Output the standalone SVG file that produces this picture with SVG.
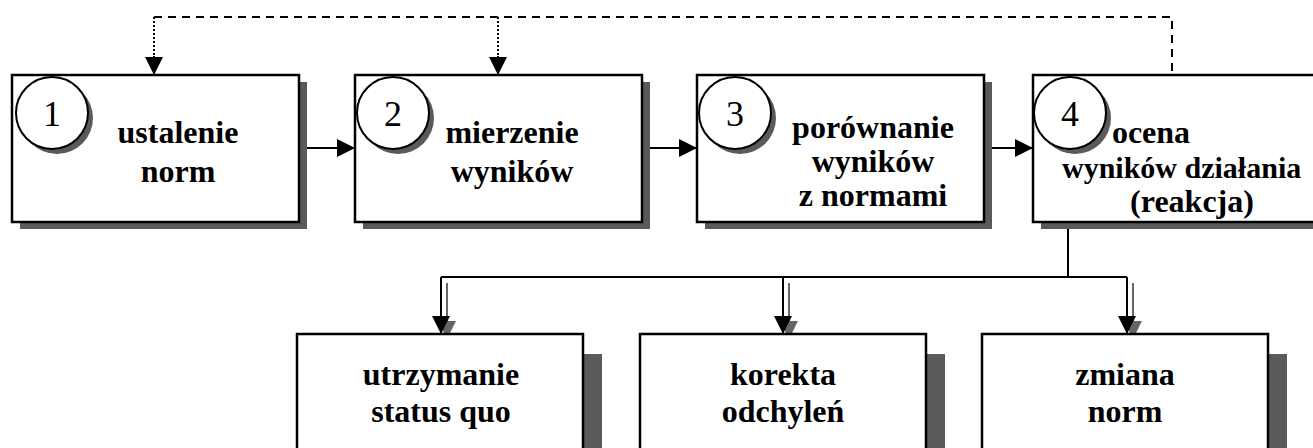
<svg xmlns="http://www.w3.org/2000/svg" width="1313" height="448" viewBox="0 0 1313 448">
<defs>
<style>
.box{fill:#fff;stroke:#000;stroke-width:2.5}
.sh{fill:#5a5a5a}
.circ{fill:#fff;stroke:#000;stroke-width:2}
.num{font-family:"Liberation Serif","Times New Roman",serif;font-size:36px;text-anchor:middle;fill:#000}
.lbl{font-family:"Liberation Serif","Times New Roman",serif;font-size:32px;font-weight:bold;text-anchor:middle;fill:#000}
.ln{fill:none;stroke:#000;stroke-width:2}
.dash{fill:none;stroke:#000;stroke-width:2;stroke-dasharray:8 6}
.dot{fill:none;stroke:#000;stroke-width:2;stroke-dasharray:2 2}
.gl{fill:none;stroke:#666;stroke-width:2}
</style>
<marker id="ah" markerWidth="18" markerHeight="18" viewBox="0 0 18 18" refX="18" refY="9" orient="auto" markerUnits="userSpaceOnUse">
<path d="M0,0 L18,9 L0,18 Z" fill="#000"/>
</marker>
<marker id="ahg" markerWidth="18" markerHeight="18" viewBox="0 0 18 18" refX="18" refY="9" orient="auto" markerUnits="userSpaceOnUse">
<path d="M0,0 L18,9 L0,18 Z" fill="#666"/>
</marker>
</defs>
<rect width="1313" height="448" fill="#fff"/>

<g id="connectors">
<path class="dash" d="M154,17 H1172 V75"/>
<path class="dot" d="M154,17 V57"/>
<path class="dot" d="M498,17 V57"/>
<path class="ln" d="M154,56 V75" marker-end="url(#ah)"/>
<path class="ln" d="M498,56 V75" marker-end="url(#ah)"/>
<path class="ln" d="M300,148 H355" marker-end="url(#ah)"/>
<path class="ln" d="M643,148 H697" marker-end="url(#ah)"/>
<path class="ln" d="M984,148 H1033" marker-end="url(#ah)"/>
<path class="ln" d="M1068,223 V277 M441,277 H1127"/>
<path class="gl" d="M447,283 V339" marker-end="url(#ahg)"/>
<path class="gl" d="M789,283 V339" marker-end="url(#ahg)"/>
<path class="gl" d="M1133,283 V339" marker-end="url(#ahg)"/>
<path class="ln" d="M441,277 V334" marker-end="url(#ah)"/>
<path class="ln" d="M783,277 V334" marker-end="url(#ah)"/>
<path class="ln" d="M1127,277 V334" marker-end="url(#ah)"/>
</g>

<g id="node1">
<rect class="sh" x="20" y="82" width="287" height="147"/>
<rect class="box" x="12" y="75" width="287" height="147"/>
<circle class="sh" cx="57" cy="118" r="36"/>
<circle class="circ" cx="52" cy="113" r="36"/>
<text class="num" x="52" y="126">1</text>
<text class="lbl" x="178" y="143">ustalenie</text>
<text class="lbl" x="178" y="182">norm</text>
</g>

<g id="node2">
<rect class="sh" x="363" y="82" width="287" height="147"/>
<rect class="box" x="355" y="75" width="287" height="147"/>
<circle class="sh" cx="398" cy="118" r="36"/>
<circle class="circ" cx="393" cy="113" r="36"/>
<text class="num" x="393" y="126">2</text>
<text class="lbl" x="512" y="143">mierzenie</text>
<text class="lbl" x="512" y="182">wyników</text>
</g>

<g id="node3">
<rect class="sh" x="705" y="82" width="287" height="147"/>
<rect class="box" x="697" y="75" width="287" height="147"/>
<circle class="sh" cx="740" cy="118" r="36"/>
<circle class="circ" cx="735" cy="113" r="36"/>
<text class="num" x="735" y="126">3</text>
<text class="lbl" x="873" y="138">porównanie</text>
<text class="lbl" x="873" y="172">wyników</text>
<text class="lbl" x="873" y="206">z normami</text>
</g>

<g id="node4">
<rect class="sh" x="1041" y="82" width="300" height="147"/>
<rect class="box" x="1033" y="75" width="300" height="147"/>
<circle class="sh" cx="1075" cy="118" r="36"/>
<circle class="circ" cx="1070" cy="113" r="36"/>
<text class="num" x="1070" y="126">4</text>
<text class="lbl" x="1151" y="143">ocena</text>
<text class="lbl" x="1062" y="178" style="text-anchor:start;font-size:30px">wyników działania</text>
<text class="lbl" x="1192" y="212">(reakcja)</text>
</g>

<g id="node5">
<rect class="sh" x="316" y="354" width="286" height="120"/>
<rect class="box" x="297" y="334" width="286" height="130"/>
<text class="lbl" x="441" y="385">utrzymanie</text>
<text class="lbl" x="441" y="422">status quo</text>
</g>

<g id="node6">
<rect class="sh" x="659" y="354" width="286" height="120"/>
<rect class="box" x="640" y="334" width="286" height="130"/>
<text class="lbl" x="783" y="385">korekta</text>
<text class="lbl" x="783" y="422">odchyleń</text>
</g>

<g id="node7">
<rect class="sh" x="1001" y="354" width="286" height="120"/>
<rect class="box" x="982" y="334" width="286" height="130"/>
<text class="lbl" x="1125" y="385">zmiana</text>
<text class="lbl" x="1125" y="422">norm</text>
</g>
</svg>
